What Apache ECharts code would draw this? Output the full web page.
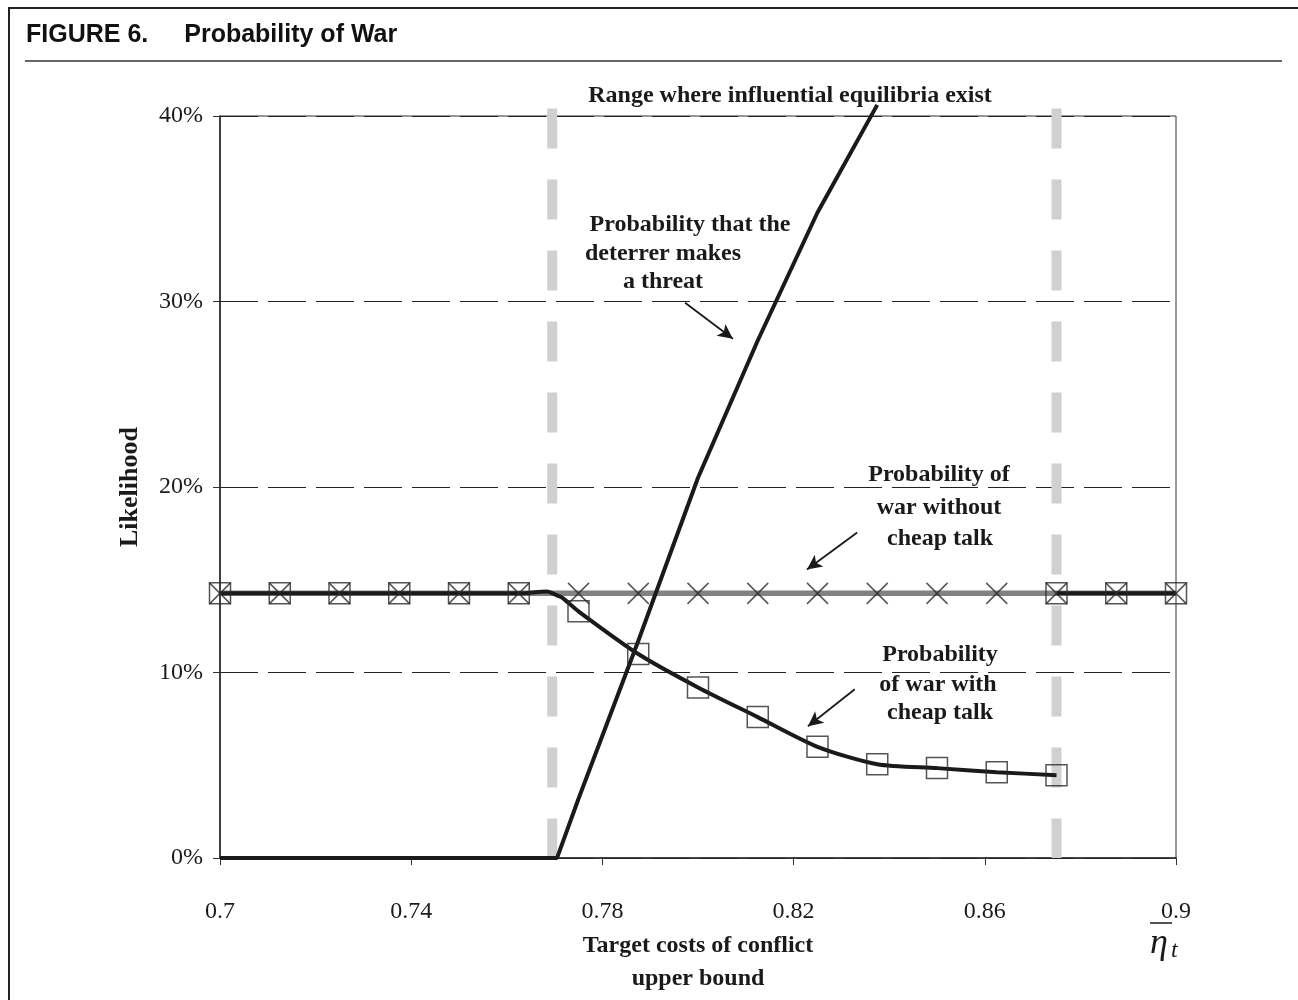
<!DOCTYPE html>
<html>
<head>
<meta charset="utf-8">
<script src="https://cdn.jsdelivr.net/npm/echarts@6/dist/echarts.min.js"></script>
<style>
  html, body { margin: 0; padding: 0; background: #fff; }
  #chart { width: 1298px; height: 1000px; }
</style>
</head>
<body>
<div id="chart"></div>
<script>
// grid of eta values where the markers sit
const etaGrid = [0.7, 0.7125, 0.725, 0.7375, 0.75, 0.7625, 0.775, 0.7875, 0.8,
  0.8125, 0.825, 0.8375, 0.85, 0.8625, 0.875, 0.8875, 0.9]
// probability of war without cheap talk (flat)
const warNoTalk = [0.1427, 0.1427, 0.1427, 0.1427, 0.1427, 0.1427, 0.1427, 0.1427, 0.1427,
  0.1427, 0.1427, 0.1427, 0.1427, 0.1427, 0.1427, 0.1427, 0.1427]
// probability of war with cheap talk, inside and left of the range
const talkX = [0.7, 0.7125, 0.725, 0.7375, 0.75, 0.7625, 0.7684, 0.7705, 0.7715, 0.775,
  0.7875, 0.8, 0.8125, 0.825, 0.8375, 0.85, 0.8625, 0.875]
const talkY = [0.1427, 0.1427, 0.1427, 0.1427, 0.1427, 0.1427, 0.1437, 0.1416, 0.1405, 0.133,
  0.110, 0.092, 0.076, 0.060, 0.0506, 0.0485, 0.0463, 0.0447]
// right of the range it is the same as without cheap talk
const talkOuterX = [0.875, 0.8875, 0.9]
const talkOuterY = [0.1427, 0.1427, 0.1427]
// probability that the deterrer makes a threat
const threatX = [0.7, 0.7705, 0.775, 0.7875, 0.8, 0.8125, 0.825, 0.8375]
const threatY = [0, 0, 0.032, 0.117, 0.205, 0.279, 0.348, 0.406]
// range where influential equilibria exist
const rangeBounds = [0.7695, 0.875]
const rangeTop = 0.404
// annotation arrows: [from, to]
const arrows = [
  [[0.7973, 0.2993], [0.8073, 0.2799]],
  [[0.8333, 0.1755], [0.8228, 0.1556]],
  [[0.8328, 0.0910], [0.8230, 0.0711]]
]

const serif = 'Liberation Serif'
const ink = '#1a1a1a'
const onGrid = x => Math.abs((x - 0.7) / 0.0125 - Math.round((x - 0.7) / 0.0125)) < 1e-6
const xMark = 'path://M0,0L10,10M10,0L0,10'

const squares = talkX.map((x, i) => [x, talkY[i]]).filter(p => onGrid(p[0]))
  .concat(talkOuterX.map((x, i) => [x, talkOuterY[i]]))

const chart = echarts.init(document.getElementById('chart'))

const label = (text, x, y, size) => ({
  type: 'text', x: x, y: y, silent: true,
  style: { text: text, fill: ink, font: 'bold ' + (size || 24) + 'px "' + serif + '"', textAlign: 'center', textVerticalAlign: 'middle' }
})

const option = {
  animation: false,
  title: {
    text: '{a|FIGURE 6.}{b|Probability of War}',
    left: 21, top: 18,
    textStyle: {
      rich: {
        a: { fontFamily: 'Liberation Sans', fontWeight: 'bold', fontSize: 25, color: '#111' },
        b: { fontFamily: 'Liberation Sans', fontWeight: 'bold', fontSize: 25, color: '#111', padding: [0, 0, 0, 36] }
      }
    }
  },
  grid: { left: 220, right: 122, top: 116, bottom: 141, show: true, borderColor: '#333', borderWidth: 1, backgroundColor: 'transparent' },
  xAxis: {
    type: 'value', min: 0.7, max: 0.9, interval: 0.04,
    name: 'Target costs of conflict\nupper bound',
    nameLocation: 'middle', nameGap: 68,
    nameTextStyle: { fontFamily: serif, fontWeight: 'bold', fontSize: 24, color: ink, lineHeight: 33 },
    axisLine: { lineStyle: { color: '#222', width: 1.5 } },
    axisTick: { show: true, inside: false, length: 7, lineStyle: { color: '#333' } },
    axisLabel: { margin: 42, fontFamily: serif, fontSize: 24, color: ink, formatter: v => String(+v.toFixed(2)) },
    splitLine: { show: false }
  },
  yAxis: {
    type: 'value', min: 0, max: 0.4, interval: 0.1,
    name: 'Likelihood',
    nameLocation: 'middle', nameGap: 77, nameRotate: 90,
    nameTextStyle: { fontFamily: serif, fontWeight: 'bold', fontSize: 26, color: ink },
    axisLine: { show: true, lineStyle: { color: '#222', width: 1.5 } },
    axisTick: { show: true, inside: false, length: 7, lineStyle: { color: '#333' } },
    axisLabel: { margin: 17, fontFamily: serif, fontSize: 24, color: ink, formatter: v => Math.round(v * 100) + '%' },
    splitLine: { show: true, lineStyle: { color: '#222', width: 1, type: [38, 10] } }
  },
  series: [
    // range bounds (light grey dashed verticals)
    ...rangeBounds.map(b => ({
      type: 'line', clip: false, silent: true, symbol: 'none', z: 1,
      data: [[b, rangeTop], [b, 0]],
      lineStyle: { color: '#d0d0d2', width: 10, type: [40, 31], cap: 'butt' }
    })),
    {
      name: 'war without cheap talk', type: 'line', symbol: 'none', z: 2,
      data: etaGrid.map((x, i) => [x, warNoTalk[i]]),
      lineStyle: { color: '#828282', width: 5.5 }
    },
    {
      name: 'war with cheap talk', type: 'line', symbol: 'none', z: 3, smooth: 0.25,
      data: talkX.map((x, i) => [x, talkY[i]]),
      lineStyle: { color: ink, width: 4 }
    },
    {
      name: 'war with cheap talk (outside range)', type: 'line', symbol: 'none', z: 3,
      data: talkOuterX.map((x, i) => [x, talkOuterY[i]]),
      lineStyle: { color: ink, width: 4 }
    },
    {
      name: 'threat', type: 'line', symbol: 'none', z: 4, clip: false,
      data: threatX.map((x, i) => [x, threatY[i]]),
      lineStyle: { color: ink, width: 4 }
    },
    {
      type: 'scatter', z: 5, symbol: 'rect', symbolSize: 21,
      data: squares,
      itemStyle: { color: 'rgba(0,0,0,0)', borderColor: '#2a2a2a', borderWidth: 1.5 }
    },
    {
      type: 'scatter', z: 5, symbol: xMark, symbolSize: 21,
      data: etaGrid.map((x, i) => [x, warNoTalk[i]]),
      itemStyle: { color: 'none', borderColor: '#2a2a2a', borderWidth: 1.5 }
    },
    {
      type: 'line', data: [], z: 6, silent: true,
      markLine: {
        silent: true, symbol: ['none', 'arrow'], symbolSize: [11, 15],
        label: { show: false },
        lineStyle: { color: ink, width: 1.8, type: 'solid' },
        data: arrows.map(a => [{ coord: a[0] }, { coord: a[1] }])
      }
    }
  ],
  graphic: [
    { type: 'polyline', silent: true, shape: { points: [[9, 1000], [9, 8], [1298, 8]] }, style: { stroke: '#222', lineWidth: 2, fill: null } },
    { type: 'line', silent: true, shape: { x1: 25, y1: 61, x2: 1282, y2: 61 }, style: { stroke: '#333', lineWidth: 1.5 } },
    label('Range where influential equilibria exist', 790, 96),
    label('Probability that the', 690, 225),
    label('deterrer makes', 663, 254),
    label('a threat', 663, 282),
    label('Probability of', 939, 475),
    label('war without', 939, 508),
    label('cheap talk', 940, 539),
    label('Probability', 940, 655),
    label('of war with', 938, 685),
    label('cheap talk', 940, 713),
    // eta-bar sub t, the x axis symbol
    { type: 'text', x: 1150, y: 944, silent: true, style: { text: 'η', fill: ink, font: 'italic 36px "' + serif + '"', textAlign: 'left', textVerticalAlign: 'middle' } },
    { type: 'line', silent: true, shape: { x1: 1150, y1: 923, x2: 1172, y2: 923 }, style: { stroke: ink, lineWidth: 1.5 } },
    { type: 'text', x: 1171, y: 951, silent: true, style: { text: 't', fill: ink, font: 'italic 24px "' + serif + '"', textAlign: 'left', textVerticalAlign: 'middle' } }
  ]
}

chart.setOption(option)
</script>
</body>
</html>
